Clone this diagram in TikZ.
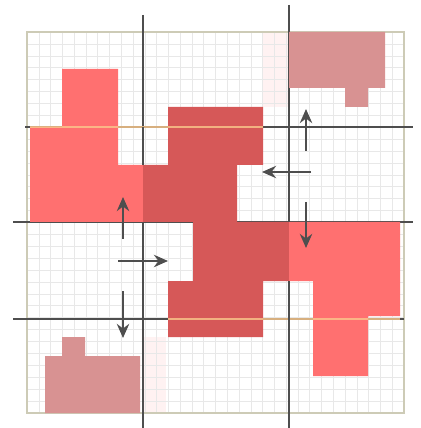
\documentclass[tikz,border=0pt]{standalone}
\usepackage{tikz}
\usetikzlibrary{arrows.meta, calc}
\definecolor{blkred}{RGB}{255,112,112}
\definecolor{blkdark}{RGB}{214,88,88}
\definecolor{blkmute}{RGB}{216,146,146}
\definecolor{cutline}{RGB}{78,78,78}
\definecolor{cutglow}{RGB}{250,200,140}
\tikzset{
    finegrid/.style={draw=gray!18, line width=0.3pt},
    gridframe/.style={draw=olive!25!gray!45, line width=0.8pt},
    tintcell/.style={fill=red!5, draw=none},
    redblock/.style={fill=blkred, draw=none},
    darkblock/.style={fill=blkdark, draw=none},
    muteblock/.style={fill=blkmute, draw=none},
    cutter/.style={draw=cutline, line width=1.1pt},
    cutover/.style={draw=cutglow, line width=0.8pt, opacity=0.8},
    moveto/.style={-{Stealth[length=8pt, width=7pt]}, line width=1.4pt, color=cutline}
}
\begin{document}
\begin{tikzpicture}[x=0.02cm, y=-0.02cm]
    \useasboundingbox (0,0) rectangle (420,428);

    % Background grid
    \fill[tintcell] (263,32) rectangle (289,107);
    \fill[tintcell] (143,337) rectangle (166,413);
    \foreach \i in {0,...,32} {
        \draw[finegrid] ({27+\i*11.78},32) -- ({27+\i*11.78},413);
        \draw[finegrid] (27,{32+\i*11.9}) -- (404,{32+\i*11.9});
    }
    \draw[gridframe] (27,32) rectangle (404,413);

    % Cutting lines
    \draw[cutter] (143,15) -- (143,428);
    \draw[cutter] (289,5) -- (289,428);
    \draw[cutter] (25,127) -- (413,127);
    \draw[cutter] (13,222) -- (413,222);
    \draw[cutter] (13,319) -- (404,319);

    % Blocks
    \fill[redblock] (62,69) -- (118,69) -- (118,165) -- (143,165) -- (143,222)
        -- (30,222) -- (30,127) -- (62,127) -- cycle;
    \fill[darkblock] (168,107) -- (263,107) -- (263,165) -- (237,165) -- (237,222)
        -- (143,222) -- (143,165) -- (168,165) -- cycle;
    \fill[darkblock] (193,222) -- (289,222) -- (289,281) -- (263,281) -- (263,337)
        -- (168,337) -- (168,281) -- (193,281) -- cycle;
    \fill[redblock] (289,222) -- (400,222) -- (400,316) -- (368,316) -- (368,376)
        -- (313,376) -- (313,281) -- (289,281) -- cycle;
    \fill[muteblock] (289,32) -- (385,32) -- (385,88) -- (368,88) -- (368,107)
        -- (345,107) -- (345,88) -- (289,88) -- cycle;
    \fill[muteblock] (45,356) -- (62,356) -- (62,337) -- (85,337) -- (85,356)
        -- (140,356) -- (140,413) -- (45,413) -- cycle;

    % Lines seen through the blocks
    \draw[cutover] (30,127) -- (263,127);
    \draw[cutover] (168,319) -- (400,319);
    \draw[cutter] (143,127) -- (143,165);
    \draw[cutter] (143,337) -- (143,428);
    \draw[cutter] (289,88) -- (289,222);
    \draw[cutter] (289,281) -- (289,428);

    % Moves
    \coordinate (upL0) at (123,239);   \coordinate (upL1) at (123,197);
    \coordinate (rtL0) at (118,261);   \coordinate (rtL1) at (168,261);
    \coordinate (dnL0) at (123,291);   \coordinate (dnL1) at (123,338);
    \coordinate (upR0) at (306,151);   \coordinate (upR1) at (306,109);
    \coordinate (ltR0) at (311,172);   \coordinate (ltR1) at (262,172);
    \coordinate (dnR0) at (306,202);   \coordinate (dnR1) at (306,248);
    \draw[moveto] (upL0) -- (upL1);
    \draw[moveto] (rtL0) -- (rtL1);
    \draw[moveto] (dnL0) -- (dnL1);
    \draw[moveto] (upR0) -- (upR1);
    \draw[moveto] (ltR0) -- (ltR1);
    \draw[moveto] (dnR0) -- (dnR1);
\end{tikzpicture}
\end{document}
